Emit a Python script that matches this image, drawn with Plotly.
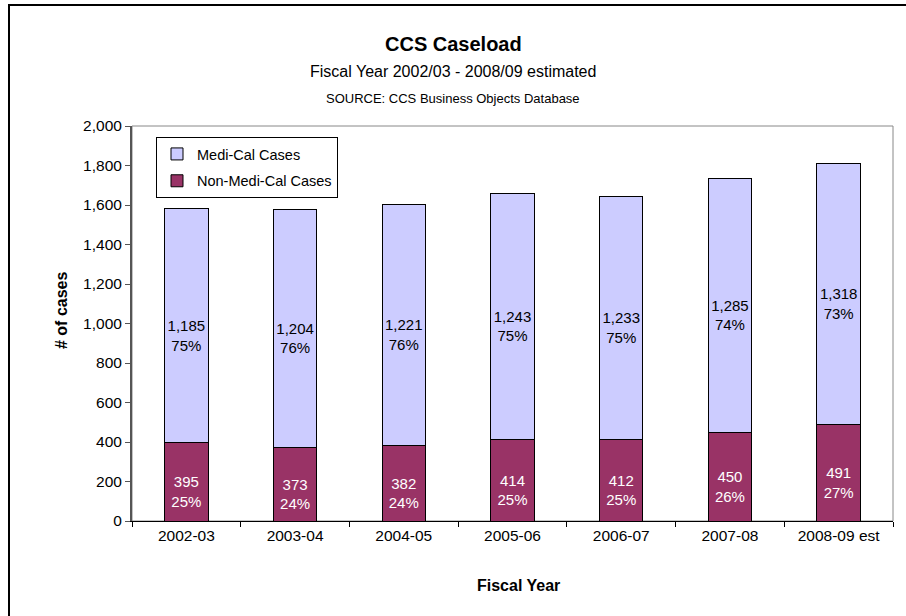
import plotly.graph_objects as go

# Fiscal years and caseload counts
years = ["2002-03", "2003-04", "2004-05", "2005-06", "2006-07", "2007-08", "2008-09 est"]
medi_cal = [1185, 1204, 1221, 1243, 1233, 1285, 1318]
non_medi_cal = [395, 373, 382, 414, 412, 450, 491]

totals = [a + b for a, b in zip(medi_cal, non_medi_cal)]
medi_pct = [round(100 * m / t) for m, t in zip(medi_cal, totals)]
non_pct = [round(100 * n / t) for n, t in zip(non_medi_cal, totals)]

FONT = "Arial, Liberation Sans, Helvetica, sans-serif"

W, H = 906, 616
L, R, T, B = 132, 13, 126, 95
PW, PH = W - L - R, H - T - B


def px_x(x):
    return (x - L) / PW


def px_y(y):
    return (H - B - y) / PH


def seg_labels(values, pcts):
    # value line sits at the segment centre, share printed underneath
    return [f"\u00a0<br>{v:,}<br>{p}%" for v, p in zip(values, pcts)]


fig = go.Figure()

fig.add_trace(go.Bar(
    x=years, y=non_medi_cal, name="Non-Medi-Cal Cases",
    legendgroup="non", legendrank=2,
    marker=dict(color="#993366", line=dict(color="#000000", width=1)),
    text=seg_labels(non_medi_cal, non_pct),
    texttemplate="%{text}", textposition="inside", insidetextanchor="middle",
    textangle=0, constraintext="none",
    textfont=dict(color="white", size=15, family=FONT),
    hoverinfo="skip",
))
fig.add_trace(go.Bar(
    x=years, y=medi_cal, name="Medi-Cal Cases",
    legendgroup="medi", legendrank=1,
    marker=dict(color="#CCCCFF", line=dict(color="#000000", width=1)),
    text=seg_labels(medi_cal, medi_pct),
    texttemplate="%{text}", textposition="inside", insidetextanchor="middle",
    textangle=0, constraintext="none",
    textfont=dict(color="black", size=15, family=FONT),
    hoverinfo="skip",
))

annotations = [
    dict(text="<b>CCS Caseload</b>", x=px_x(453), y=px_y(44), font=dict(size=20)),
    dict(text="Fiscal Year 2002/03 - 2008/09 estimated", x=px_x(453), y=px_y(72), font=dict(size=16)),
    dict(text="SOURCE: CCS Business Objects Database", x=px_x(453), y=px_y(98), font=dict(size=13)),
    dict(text="<b># of cases</b>", x=px_x(61), y=px_y(311), font=dict(size=16), textangle=-90),
    dict(text="<b>Fiscal Year</b>", x=px_x(518), y=px_y(585), font=dict(size=16)),
]
for a in annotations:
    a.update(xref="paper", yref="paper", showarrow=False, xanchor="center", yanchor="middle")
    a["font"].update(family=FONT, color="black")

shapes = [
    # plot-area frame
    dict(type="rect", xref="paper", yref="paper", x0=0, y0=0, x1=1, y1=1,
         line=dict(color="#888888", width=1), fillcolor="rgba(0,0,0,0)", layer="below"),
    # outer chart frame
    dict(type="rect", xref="paper", yref="paper",
         x0=px_x(9), y0=px_y(660), x1=px_x(960), y1=px_y(5),
         line=dict(color="black", width=2), fillcolor="rgba(0,0,0,0)"),
]

fig.update_layout(
    width=W, height=H,
    margin=dict(l=L, r=R, t=T, b=B, pad=0),
    barmode="stack", bargap=0.6,
    paper_bgcolor="white", plot_bgcolor="white",
    font=dict(family=FONT, size=14, color="black"),
    showlegend=True,
    legend=dict(
        x=px_x(156), y=px_y(137), xanchor="left", yanchor="top",
        traceorder="grouped", tracegroupgap=5, bgcolor="white",
        bordercolor="black", borderwidth=1,
        font=dict(size=14.5, family=FONT), itemwidth=30,
    ),
    annotations=annotations,
    shapes=shapes,
)

fig.update_yaxes(
    range=[0, 2000], dtick=200, tickformat=",",
    showgrid=False, zeroline=False,
    showline=True, linecolor="#555555", linewidth=2,
    ticks="outside", ticklen=5, tickcolor="#555555",
    tickfont=dict(size=15.5, family=FONT, color="black"),
)
fig.update_xaxes(
    type="category",
    showgrid=False, showline=True, linecolor="black", linewidth=1,
    ticks="outside", ticklen=5, tickcolor="black", tickson="boundaries",
    tickfont=dict(size=15.5, family=FONT, color="black"),
)

fig.write_html("out.html")
